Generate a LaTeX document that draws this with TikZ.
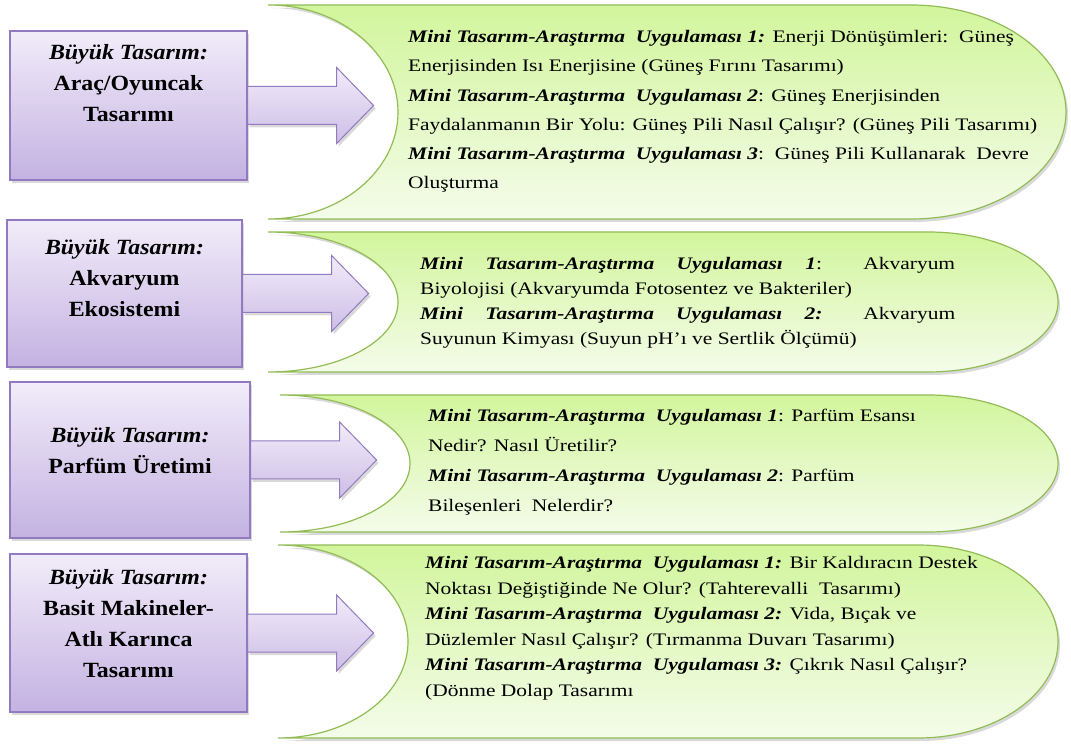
\documentclass[tikz,border=0pt]{standalone}
\usepackage{fontspec}
\setmainfont{Liberation Serif}
\newfontfamily\minifont{Liberation Serif}[FakeStretch=1.22]
\newfontfamily\bigfont{Liberation Serif}[FakeStretch=1.1]
\usetikzlibrary{positioning,calc,shadows}
\definecolor{lilatop}{RGB}{241,236,249}
\definecolor{lilabot}{RGB}{196,178,226}
\definecolor{lilaline}{RGB}{146,122,192}
\definecolor{yesiltop}{RGB}{210,245,156}
\definecolor{yesilbot}{RGB}{244,252,234}
\definecolor{yesilline}{RGB}{146,188,86}
\newcommand{\minibas}[1]{\textbf{\textit{#1}}}
\begin{document}
\begin{tikzpicture}[x = 1pt, y = 1pt,
	golge/.style = {drop shadow = {opacity = .3, shadow xshift = 2pt, shadow yshift = -3pt}},
	bigbox/.style = {draw = lilaline, line width = 1.2pt, top color = lilatop, bottom color = lilabot, golge},
	bigtext/.style = {align = center, inner sep = 0pt, font = \bigfont\bfseries\fontsize{21.7}{31}\selectfont},
	okbox/.style = {draw = lilaline, line width = 1pt, top color = lilatop, bottom color = lilabot!80!lilatop, golge},
	minishape/.style = {draw = yesilline, line width = 1.2pt, top color = yesiltop, bottom color = yesilbot, golge},
	minitext/.style = {align = left, inner sep = 0pt, anchor = north west}]
	\useasboundingbox (0,0) rectangle (1071,745);
	% yesil alanlar
	\draw[minishape] (268,740) -- (911,740) arc[start angle = 90, end angle = -90, x radius = 155, y radius = 107] -- (268,526) arc[start angle = -90, end angle = 90, x radius = 130, y radius = 107] -- cycle;
	\draw[minishape] (268,513) -- (928,513) arc[start angle = 90, end angle = -90, x radius = 130, y radius = 70] -- (268,373) arc[start angle = -90, end angle = 90, x radius = 130, y radius = 70] -- cycle;
	\draw[minishape] (280,350) -- (928,350) arc[start angle = 90, end angle = -90, x radius = 130, y radius = 68.5] -- (280,213) arc[start angle = -90, end angle = 90, x radius = 130, y radius = 68.5] -- cycle;
	\draw[minishape] (278,200) -- (918,200) arc[start angle = 90, end angle = -90, x radius = 140, y radius = 96.5] -- (278,7) arc[start angle = -90, end angle = 90, x radius = 130, y radius = 96.5] -- cycle;
	% buyuk tasarim kutulari
	\node[bigbox, minimum width = 237pt, minimum height = 149pt] (big1) at (128.5,639.5) {};
	\node[bigbox, minimum width = 235pt, minimum height = 147pt] (big2) at (124.5,451.5) {};
	\node[bigbox, minimum width = 240pt, minimum height = 156pt] (big3) at (130,285) {};
	\node[bigbox, minimum width = 237pt, minimum height = 158pt] (big4) at (128.5,112) {};
	% oklar
	\foreach \i in {1,...,4}
		\draw[okbox] ($(big\i.east)+(0,19)$) -- ++(89,0) -- ++(0,19) -- ++(37,-38) -- ++(-37,-38) -- ++(0,19) -- ++(-89,0) -- cycle;
	\node[bigtext, below = 14pt of big1.north] (bigtxt1) {\textit{Büyük Tasarım:}\\Araç/Oyuncak\\Tasarımı};
	\node[bigtext, below = 20pt of big2.north] (bigtxt2) {\textit{Büyük Tasarım:}\\Akvaryum\\Ekosistemi};
	\node[bigtext, below = 46pt of big3.north] (bigtxt3) {\textit{Büyük Tasarım:}\\Parfüm Üretimi};
	\node[bigtext, below = 16pt of big4.north] (bigtxt4) {\textit{Büyük Tasarım:}\\Basit Makineler-\\Atlı Karınca\\Tasarımı};
	% mini tasarimlar
	\node[minitext, font = \minifont\fontsize{17.6}{29.3}\selectfont] (mini1) at (408,715) {\minibas{Mini Tasarım-Araştırma\ \ Uygulaması 1:} Enerji Dönüşümleri:\ \ Güneş\\
		Enerjisinden Isı Enerjisine (Güneş Fırını Tasarımı)\\
		\minibas{Mini Tasarım-Araştırma\ \ Uygulaması 2}: Güneş Enerjisinden\\
		Faydalanmanın Bir Yolu: Güneş Pili Nasıl Çalışır? (Güneş Pili Tasarımı)\\
		\minibas{Mini Tasarım-Araştırma\ \ Uygulaması 3}:\ \ Güneş Pili Kullanarak\ \ Devre\\
		Oluşturma};
	\node[minitext, font = \minifont\fontsize{17.6}{25}\selectfont] (mini2) at (420,488) {\makebox[535pt][s]{\minibas{Mini Tasarım-Araştırma Uygulaması 1}: Akvaryum}\\
		Biyolojisi (Akvaryumda Fotosentez ve Bakteriler)\\
		\makebox[535pt][s]{\minibas{Mini Tasarım-Araştırma Uygulaması 2:} Akvaryum}\\
		Suyunun Kimyası (Suyun pH’ı ve Sertlik Ölçümü)};
	\node[minitext, font = \minifont\fontsize{17.6}{30}\selectfont] (mini3) at (428,336) {\minibas{Mini Tasarım-Araştırma\ \ Uygulaması 1}: Parfüm Esansı\\
		Nedir? Nasıl Üretilir?\\
		\minibas{Mini Tasarım-Araştırma\ \ Uygulaması 2}: Parfüm\\
		Bileşenleri\ \ Nelerdir?};
	\node[minitext, font = \minifont\fontsize{17.6}{25.6}\selectfont] (mini4) at (425,189) {\minibas{Mini Tasarım-Araştırma\ \ Uygulaması 1:} Bir Kaldıracın Destek\\
		Noktası Değiştiğinde Ne Olur? (Tahterevalli\ \ Tasarımı)\\
		\minibas{Mini Tasarım-Araştırma\ \ Uygulaması 2:} Vida, Bıçak ve\\
		Düzlemler Nasıl Çalışır? (Tırmanma Duvarı Tasarımı)\\
		\minibas{Mini Tasarım-Araştırma\ \ Uygulaması 3:} Çıkrık Nasıl Çalışır?\\
		(Dönme Dolap Tasarımı};
\end{tikzpicture}
\end{document}
